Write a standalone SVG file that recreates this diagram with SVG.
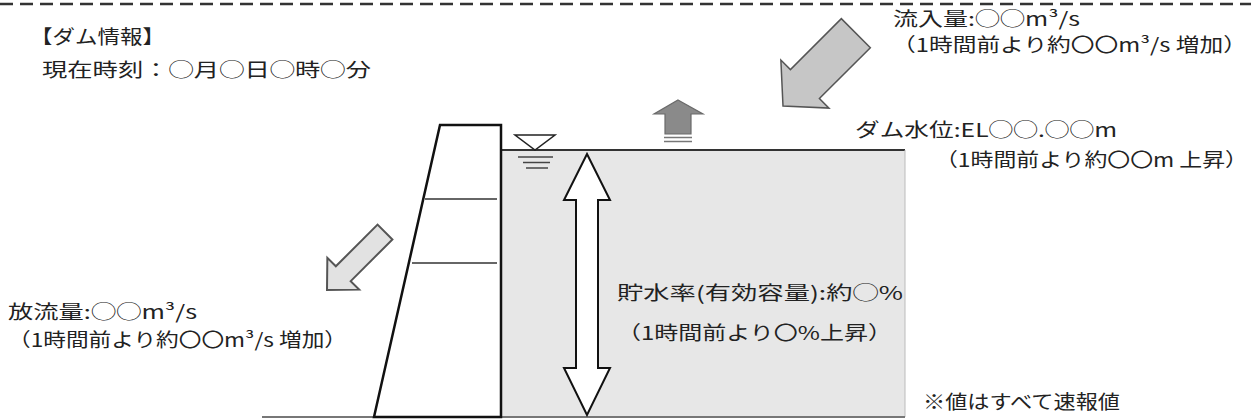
<svg xmlns="http://www.w3.org/2000/svg" width="1251" height="419" viewBox="0 0 1251 419">
<defs>
<style>
.t{font-family:"Noto Sans CJK JP","Noto Sans",sans-serif;fill:#222;font-size:19px}
</style>
</defs>
<rect width="1251" height="419" fill="#ffffff"/>
<line x1="0" y1="4" x2="1251" y2="4" stroke="#333" stroke-width="2.5" stroke-dasharray="13 7"/>

<g id="water">
<rect x="501" y="150" width="404" height="267" fill="#e7e7e7"/>
<line x1="501" y1="150" x2="905" y2="150" stroke="#333" stroke-width="2"/>
<line x1="905" y1="150" x2="905" y2="417" stroke="#bbb" stroke-width="1"/>
<line x1="262" y1="417" x2="905" y2="417" stroke="#777" stroke-width="2"/>
</g>

<g id="dam">
<polygon points="440,125 501,125 501,417 374,417" fill="#ffffff" stroke="#111" stroke-width="2.5" stroke-linejoin="miter"/>
<line x1="425" y1="199" x2="497" y2="199" stroke="#333" stroke-width="1.5"/>
<line x1="412" y1="263" x2="497" y2="263" stroke="#333" stroke-width="1.5"/>
</g>

<g id="water-level-mark">
<polygon points="515,135 555,135 535,150" fill="#ffffff" stroke="#222" stroke-width="1.5"/>
<line x1="518" y1="157" x2="553" y2="157" stroke="#444" stroke-width="1.5"/>
<line x1="523" y1="162.5" x2="550" y2="162.5" stroke="#444" stroke-width="1.5"/>
<line x1="526" y1="168" x2="548" y2="168" stroke="#444" stroke-width="1.5"/>
</g>

<g id="rise-arrow">
<polygon points="678,100 703,114 691,114 691,134 665,134 665,114 654,114" fill="#8a8a8a" stroke="#6a6a6a" stroke-width="1.2"/>
<line x1="664" y1="137.5" x2="692" y2="137.5" stroke="#777" stroke-width="1.5"/>
<line x1="664" y1="141.5" x2="692" y2="141.5" stroke="#777" stroke-width="1.5"/>
</g>

<g id="connectors">
<path id="inflow-arrow" d="M0,0 L31,-34 L31,-20.5 L103,-20.5 L103,20.5 L31,20.5 L31,34 Z" transform="translate(783,106) rotate(-45)" fill="#c6c6c6" stroke="#555" stroke-width="1.5" stroke-linejoin="miter"/>
<path id="outflow-arrow" d="M0,0 L23,-22.5 L23,-10.5 L82,-10.5 L82,10.5 L23,10.5 L23,22.5 Z" transform="translate(327,290) rotate(-45)" fill="#e2e2e2" stroke="#555" stroke-width="2" stroke-linejoin="miter"/>
<path id="storage-arrow" d="M587,154 L610,200 L598,200 L598,368 L610,368 L587,415 L564,368 L576,368 L576,200 L564,200 Z" fill="#ffffff" stroke="#111" stroke-width="2" stroke-linejoin="miter"/>
</g>

<g id="dam-info">
<text class="t" x="30" y="44" font-size="23" textLength="135" lengthAdjust="spacingAndGlyphs">【ダム情報】</text>
<text class="t" x="42" y="77" font-size="21" textLength="329" lengthAdjust="spacingAndGlyphs">現在時刻：◯月◯日◯時◯分</text>
</g>

<g id="inflow-label">
<text class="t" x="893" y="26" textLength="187" lengthAdjust="spacingAndGlyphs">流入量:◯◯m³/s</text>
<text class="t" x="892" y="52" textLength="355" lengthAdjust="spacingAndGlyphs">（1時間前より約〇〇m³/s 増加）</text>
</g>

<g id="level-label">
<text class="t" x="855" y="137" textLength="262" lengthAdjust="spacingAndGlyphs">ダム水位:EL◯◯.◯◯m</text>
<text class="t" x="935" y="167" textLength="313" lengthAdjust="spacingAndGlyphs">（1時間前より約〇〇m 上昇）</text>
</g>

<g id="outflow-label">
<text class="t" x="8" y="319" textLength="189" lengthAdjust="spacingAndGlyphs">放流量:◯◯m³/s</text>
<text class="t" x="8" y="347" textLength="339" lengthAdjust="spacingAndGlyphs">（1時間前より約〇〇m³/s 増加）</text>
</g>

<g id="storage-label">
<text class="t" x="617" y="300" textLength="286" lengthAdjust="spacingAndGlyphs">貯水率(有効容量):約◯%</text>
<text class="t" x="617" y="340" textLength="275" lengthAdjust="spacingAndGlyphs">（1時間前より〇%上昇）</text>
</g>

<g id="note">
<text class="t" x="923" y="409" textLength="197" lengthAdjust="spacingAndGlyphs">※値はすべて速報値</text>
</g>
</svg>
